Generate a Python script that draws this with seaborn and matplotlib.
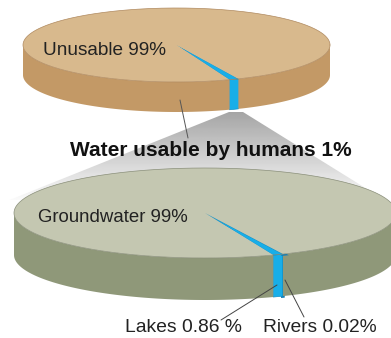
import numpy as np
import matplotlib
matplotlib.use("Agg")
import matplotlib.pyplot as plt
from matplotlib.patches import Polygon
import seaborn as sns

# Share of the Earth's fresh water
outer_labels = ["Unusable", "Water usable by humans"]
outer_values = [99, 1]
inner_labels = ["Rivers", "Lakes", "Groundwater"]
inner_values = [0.02, 0.86, 99]
inner_texts = ["Rivers 0.02%", "Lakes 0.86 %", "Groundwater 99%"]
outer_texts = ["Unusable 99%", "Water usable by humans 1%"]

sns.set_style("white")
plt.rcParams["font.family"] = ["Liberation Sans", "DejaVu Sans"]

tan_top, tan_side = "#d8b98d", "#c39966"
sage_top, sage_side = "#c4c7b1", "#8f9879"
blue, blue_dark = "#18aee8", "#147db5"

fig = plt.figure(figsize=(3.91, 3.38), dpi=100)
ax = fig.add_axes([0, 0, 1, 1])
ax.set_xlim(0, 391)
ax.set_ylim(338, 0)
ax.axis("off")


def rim(cx, cy, a, b, t):
    return np.column_stack([cx + a * np.cos(t), cy + b * np.sin(t)])


def disc(cx, cy, a, b, h, values, start_deg, tops, sides, edges=None, lws=None, z=2):
    vals = np.asarray(values, float)
    spans = vals / vals.sum() * 360.0
    starts = start_deg + np.concatenate([[0], np.cumsum(spans)[:-1]])
    n = len(vals)
    edges = edges or ["none"] * n
    lws = lws or [0] * n
    # side band: only the front half (0..180 deg) is visible
    for s, w, col, ec, lw in zip(starts, spans, sides, edges, lws):
        for off in (0, 360, -360):
            t1, t2 = max(s + off, 0), min(s + w + off, 180)
            if t2 > t1:
                t = np.radians(np.linspace(t1, t2, 200))
                top = rim(cx, cy, a, b, t)
                bot = top + [0, h]
                ax.add_patch(Polygon(np.vstack([top, bot[::-1]]), closed=True,
                                     facecolor=col, edgecolor=ec, lw=lw, zorder=z))
    # top face wedges
    for s, w, col, ec, lw in zip(starts, spans, tops, edges, lws):
        t = np.radians(np.linspace(s, s + w, max(int(w * 3), 4)))
        pts = np.vstack([[cx, cy], rim(cx, cy, a, b, t)])
        ax.add_patch(Polygon(pts, closed=True, facecolor=col, edgecolor=ec,
                             lw=lw, zorder=z + 1))
    return starts, spans


# connecting fan between the two discs, shaded grey
fan = Polygon([[229, 112], [243, 112], [396, 207], [-8, 207]], closed=True,
              facecolor="none", edgecolor="none")
ax.add_patch(fan)
grad = np.linspace(0.64, 0.98, 100)[:, None] * np.ones((1, 10))
img = ax.imshow(grad, cmap="gray", vmin=0, vmax=1, extent=[0, 391, 200, 110],
                aspect="auto", zorder=1)
img.set_clip_path(fan)

t = np.radians(np.linspace(0, 360, 400))

# upper disc: all water
disc(176.5, 45, 153.5, 37, 30, outer_values[::-1], 66.2,
     [blue, tan_top], [blue, tan_side], edges=["#1090c8", "none"], lws=[0.5, 0])
ax.plot(*rim(176.5, 45, 153.5, 37, t).T, color="#b08a60", lw=0.5, zorder=4)

# lower disc: usable fresh water
disc(205, 213, 191, 45, 42, inner_values, 65.9,
     [blue_dark, blue, sage_top], [blue_dark, blue, sage_side],
     edges=[blue_dark, "#1090c8", "none"], lws=[2.5, 0.5, 0], z=5)
ax.plot(*rim(205, 213, 191, 45, t).T, color="#8a8f7a", lw=0.5, zorder=8)

# leader lines
ax.plot([180, 188], [100, 138], color="#555555", lw=0.7, zorder=9)
ax.plot([277, 221], [285, 320], color="#444444", lw=0.7, zorder=9)
ax.plot([285, 304], [280, 317], color="#444444", lw=0.7, zorder=9)

# labels
ax.text(43, 55, outer_texts[0], fontsize=13.7, color="#222222", zorder=10)
ax.text(211, 155.5, outer_texts[1], fontsize=15, fontweight="bold",
        ha="center", color="#111111", zorder=10)
ax.text(38, 221.5, inner_texts[2], fontsize=13.4, color="#222222", zorder=10)
ax.text(125, 331.5, inner_texts[1], fontsize=13.9, color="#222222", zorder=10)
ax.text(263, 331.5, inner_texts[0], fontsize=13.8, color="#222222", zorder=10)

fig.savefig("out.png", dpi=100, facecolor="white")
